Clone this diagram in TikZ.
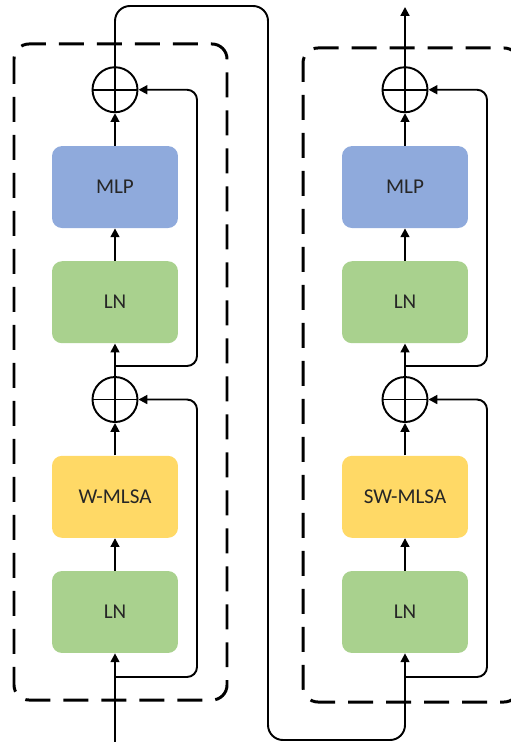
\documentclass[tikz,border=0pt]{standalone}
\usepackage{fontspec}
\setmainfont{Carlito}
\usetikzlibrary{positioning, arrows.meta}
\definecolor{mlpblue}{HTML}{8FAADC}
\definecolor{lngreen}{HTML}{A9D18E}
\definecolor{attnyellow}{HTML}{FFD966}
\tikzset{
	node distance=0.65cm,
	>={Triangle[length=5pt,width=5pt]},
	block/.style={rectangle, rounded corners=0.2cm, minimum width=2.52cm, minimum height=1.64cm, font=\fontsize{12}{14}\selectfont, text=black!85},
	addop/.style={circle, draw, line width=1.1pt, minimum size=0.9cm, inner sep=0pt},
	wire/.style={line width=1.1pt},
	frame/.style={line width=1.7pt, dash pattern=on 0.5cm off 0.26cm, rounded corners=0.3cm}}

\begin{document}
\begin{tikzpicture}[x=0.02cm, y=-0.02cm]
		\useasboundingbox (0,0) rectangle (510,742);
		
		% dashed block frames (the right one runs off the page)
		\draw[frame] (14,44) rectangle (227,700);
		\draw[frame] (519,64) -- (519,48) -- (303,48) -- (303,702) -- (519,702) -- (519,686);
		
		% W-MSA block
		\node[block, fill=lngreen] (lnA1) at (115,612) {LN};
		\node[block, fill=attnyellow, above=of lnA1] (attnA) {W-MLSA};
		\node[addop, above=of attnA] (addA1) {};
		\node[block, fill=lngreen, above=of addA1] (lnA2) {LN};
		\node[block, fill=mlpblue, above=of lnA2] (mlpA) {MLP};
		\node[addop, above=of mlpA] (addA2) {};
		
		% SW-MSA block
		\node[block, fill=lngreen] (lnB1) at (405,612) {LN};
		\node[block, fill=attnyellow, above=of lnB1] (attnB) {SW-MLSA};
		\node[addop, above=of attnB] (addB1) {};
		\node[block, fill=lngreen, above=of addB1] (lnB2) {LN};
		\node[block, fill=mlpblue, above=of lnB2] (mlpB) {MLP};
		\node[addop, above=of mlpB] (addB2) {};
		
		\coordinate (inA) at (115,742);
		\coordinate (forkA1) at (115,677);
		\coordinate (forkA2) at (115,366);
		\coordinate (skipA) at (197,0);
		\coordinate (forkB1) at (405,677);
		\coordinate (forkB2) at (405,366);
		\coordinate (skipB) at (487,0);
		\coordinate (loopT) at (268,6);
		\coordinate (loopB) at (268,740);
		\coordinate (outB) at (405,7);
		
		% plus signs
		\draw[wire] 
		(addA1.north) -- (addA1.south) (addA1.west) -- (addA1.east)
		(addA2.north) -- (addA2.south) (addA2.west) -- (addA2.east)
		(addB1.north) -- (addB1.south) (addB1.west) -- (addB1.east)
		(addB2.north) -- (addB2.south) (addB2.west) -- (addB2.east)
		;
		
		% main path
		\draw[wire, ->] (inA) -- (lnA1);
		\draw[wire, ->] (lnA1) -- (attnA);
		\draw[wire, ->] (attnA) -- (addA1);
		\draw[wire, ->] (addA1) -- (lnA2);
		\draw[wire, ->] (lnA2) -- (mlpA);
		\draw[wire, ->] (mlpA) -- (addA2);
		\draw[wire, ->, rounded corners=0.3cm] (addA2.north) -- (addA2 |- loopT) -- (loopT) -- (loopB) -- (loopB -| lnB1) -- (lnB1.south);
		\draw[wire, ->] (lnB1) -- (attnB);
		\draw[wire, ->] (attnB) -- (addB1);
		\draw[wire, ->] (addB1) -- (lnB2);
		\draw[wire, ->] (lnB2) -- (mlpB);
		\draw[wire, ->] (mlpB) -- (addB2);
		\draw[wire, ->] (addB2.north) -- (outB);
		
		% residual connections
		\draw[wire, ->, rounded corners=0.2cm] (forkA1) -- (forkA1 -| skipA) -- (addA1 -| skipA) -- (addA1);
		\draw[wire, ->, rounded corners=0.2cm] (forkA2) -- (forkA2 -| skipA) -- (addA2 -| skipA) -- (addA2);
		\draw[wire, ->, rounded corners=0.2cm] (forkB1) -- (forkB1 -| skipB) -- (addB1 -| skipB) -- (addB1);
		\draw[wire, ->, rounded corners=0.2cm] (forkB2) -- (forkB2 -| skipB) -- (addB2 -| skipB) -- (addB2);
	\end{tikzpicture}
\end{document}
